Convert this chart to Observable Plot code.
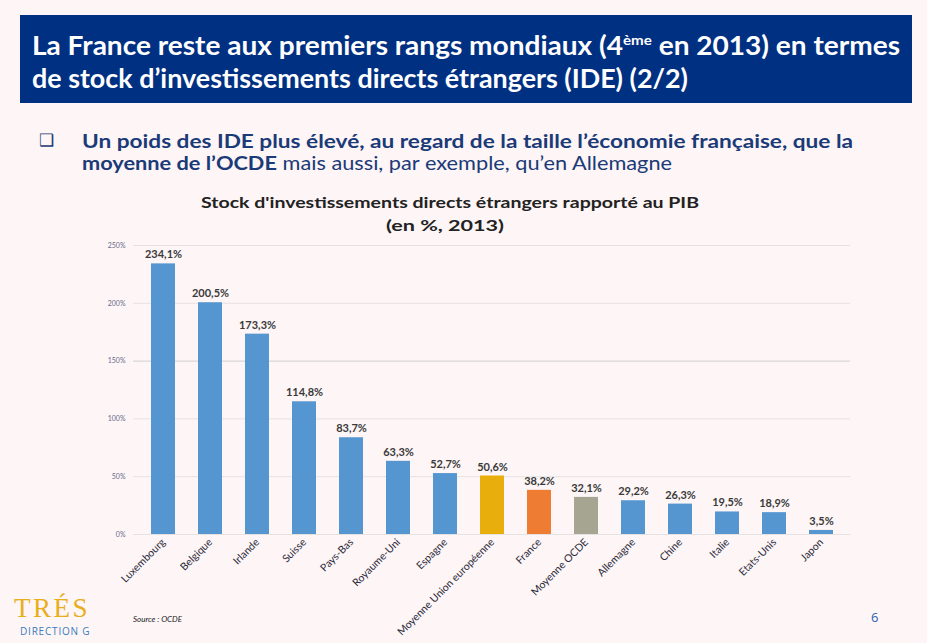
<!DOCTYPE html>
<html><head><meta charset="utf-8">
<script src="https://cdn.jsdelivr.net/npm/d3@7"></script>
<script src="https://cdn.jsdelivr.net/npm/@observablehq/plot@0.6"></script>
<style>
html,body{margin:0;padding:0;}
body{width:927px;height:643px;background:#fdf5f6;position:relative;overflow:hidden;font-family:Lato,"Open Sans",sans-serif;}
#hdr{position:absolute;left:20px;top:15px;width:892px;height:88px;background:#003082;}
.ln{position:absolute;white-space:nowrap;line-height:1.2;}
.fit{display:inline-block;transform-origin:0 50%;}
#chart{position:absolute;left:0;top:230px;}
#chart svg{overflow:visible;}
#src{position:absolute;left:133px;top:614px;font-size:8px;font-style:italic;color:#222;}
#pg{position:absolute;left:871px;top:608px;font-size:13px;color:#3060b0;font-family:"Open Sans",sans-serif;}
#logo1{position:absolute;left:14px;top:598px;font-family:"Liberation Serif",serif;font-size:27px;line-height:20px;height:20px;color:#e8ae1c;letter-spacing:2.5px;}
#logo2{position:absolute;left:20px;top:627px;font-family:"Open Sans",sans-serif;font-size:10px;line-height:9px;height:9px;color:#3a7cc0;letter-spacing:0.8px;}
</style></head>
<body>
<div id="hdr"></div>
<div class="ln" style="left:32px;top:30px;color:#fff;font-weight:bold;font-size:26px;"><span class="fit" data-w="868">La France reste aux premiers rangs mondiaux (4<sup style="font-size:14px;vertical-align:10px;">ème</sup> en 2013) en termes</span></div>
<div class="ln" style="left:32px;top:63px;color:#fff;font-weight:bold;font-size:26px;"><span class="fit" data-w="656">de stock d’investissements directs étrangers (IDE) (2/2)</span></div>
<div class="ln" style="left:39px;top:130px;color:#1b3a78;font-size:17px;">❑</div>
<div class="ln" style="left:82px;top:130px;color:#1b3a78;font-size:19px;"><span class="fit" data-w="771"><b>Un poids des IDE plus élevé, au regard de la taille l’économie française, que la</b></span></div>
<div class="ln" style="left:82px;top:152px;color:#1b3a78;font-size:19px;"><span class="fit" data-w="590"><b>moyenne de l’OCDE</b> mais aussi, par exemple, qu’en Allemagne</span></div>
<div class="ln" style="left:201px;top:193px;color:#222;font-size:15px;font-weight:bold;"><span class="fit" data-w="498">Stock d'investissements directs étrangers rapporté au PIB</span></div>
<div class="ln" style="left:386px;top:216px;color:#222;font-size:15px;font-weight:bold;"><span class="fit" data-w="118">(en %, 2013)</span></div>
<div id="chart"></div>
<div id="src">Source : OCDE</div>
<div id="pg">6</div>
<div id="logo1">TRÉS</div>
<div id="logo2">DIRECTION G</div>
<script>
const countries = ["Luxembourg","Belgique","Irlande","Suisse","Pays-Bas","Royaume-Uni","Espagne","Moyenne Union européenne","France","Moyenne OCDE","Allemagne","Chine","Italie","Etats-Unis","Japon"];
const values = [234.1,200.5,173.3,114.8,83.7,63.3,52.7,50.6,38.2,32.1,29.2,26.3,19.5,18.9,3.5];
const colors = ["#5595d0","#5595d0","#5595d0","#5595d0","#5595d0","#5595d0","#5595d0","#e8ae0c","#ef7c33","#a6a592","#5595d0","#5595d0","#5595d0","#5595d0","#5595d0"];
const yTicks = [0,50,100,150,200,250];
const data = countries.map((c,i)=>({country:c,value:values[i],color:colors[i],label:values[i].toFixed(1).replace(".",",")+"%"}));
const grid = yTicks.map(t=>({t, stroke: t===150?"#cfcfcf":"#e6e2e2"}));
const chart = Plot.plot({
  width:927, height:390,
  marginLeft:133, marginRight:77, marginTop:15, marginBottom:86,
  style:{background:"transparent", fontFamily:'Lato,"Open Sans",sans-serif', overflow:"visible"},
  x:{domain:countries, paddingInner:0.5, paddingOuter:0.28, label:null},
  y:{domain:[0,250], ticks:yTicks, tickFormat:d=>d+"%", label:null},
  marks:[
    Plot.ruleY(grid,{y:"t", stroke:"stroke"}),
    Plot.axisY({ticks:yTicks, tickSize:0, tickPadding:8, tickFormat:d=>d+"%", fontSize:7, fill:"#6a6a8a", label:null}),
    Plot.barY(data,{x:"country", y:"value", fill:"color"}),
    Plot.text(data,{x:"country", y:"value", text:"label", dy:-9, fontWeight:"bold", fontSize:11, fill:"#3a3a3a"}),
    Plot.axisX({tickSize:0, tickPadding:6, tickRotate:-45, fontSize:10.5, fill:"#2a2a3a", label:null})
  ]
});
document.getElementById("chart").appendChild(chart);
document.querySelectorAll(".fit").forEach(el=>{
  const w = el.getBoundingClientRect().width;
  const t = +el.dataset.w;
  if (w>0) el.style.transform = `scaleX(${t/w})`;
});
</script>
</body></html>
